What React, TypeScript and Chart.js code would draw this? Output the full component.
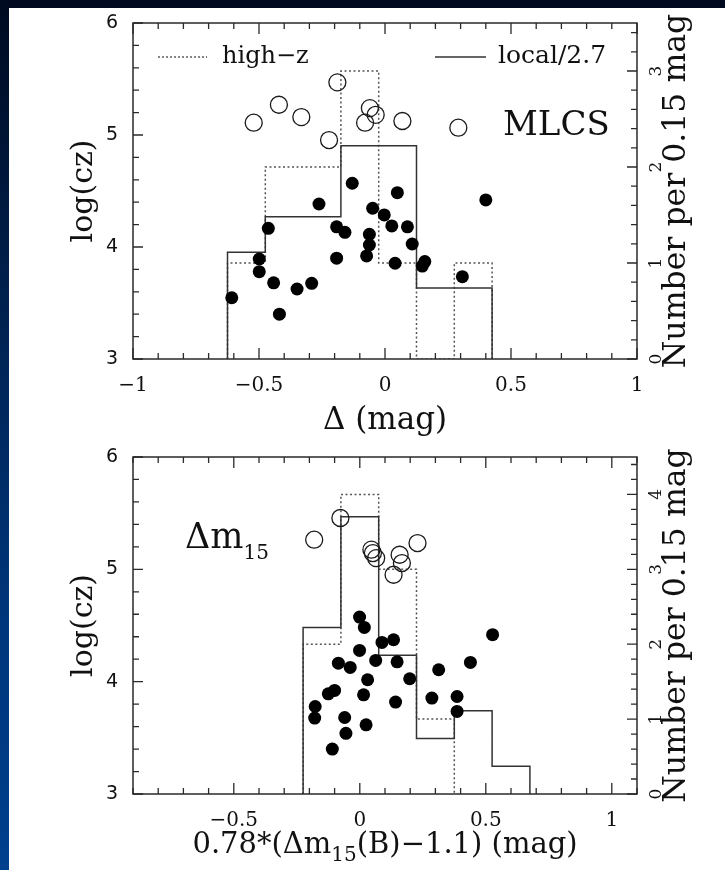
import React, { useEffect, useRef } from "react";
import { Chart, registerables } from "chart.js";

Chart.register(...registerables);

const SERIF = '"DejaVu Serif", serif';
const SANS = '"DejaVu Sans", sans-serif';

// ---------------- top panel (MLCS) ----------------
const topLocalX = [-0.608, -0.499, -0.499, -0.463, -0.442, -0.419, -0.349, -0.291, -0.262, -0.192, -0.159, -0.192, -0.13, -0.049, -0.062, -0.062, -0.073, -0.003, 0.027, 0.04, 0.049, 0.089, 0.108, 0.158, 0.148, 0.307, 0.4];
const topLocalY = [3.547, 3.893, 3.78, 4.167, 3.68, 3.4, 3.625, 3.676, 4.384, 4.18, 4.131, 3.9, 4.569, 4.346, 4.113, 4.018, 3.92, 4.286, 4.188, 3.855, 4.485, 4.18, 4.027, 3.87, 3.83, 3.735, 4.42];
const topHighZX = [-0.521, -0.421, -0.332, -0.222, -0.189, -0.06, -0.079, -0.037, 0.069, 0.291];
const topHighZY = [5.11, 5.27, 5.16, 4.955, 5.47, 5.24, 5.11, 5.18, 5.125, 5.065];
const topBinEdges = [-0.625, -0.475, -0.325, -0.175, -0.025, 0.125, 0.275, 0.425];
const topLocalCounts = [3, 4, 4, 6, 6, 2, 2];
const topHighZCounts = [1, 2, 2, 3, 1, 0, 1];
const topXTicks = [-1, -0.5, 0, 0.5, 1];
const topY2Ticks = [0, 1, 2, 3];

// ---------------- bottom panel (Delta m15) ----------------
const botLocalX = [-0.177, -0.179, -0.125, -0.1, -0.109, -0.085, -0.06, -0.055, -0.038, -0.001, 0.015, 0.025, 0.031, 0.063, 0.088, 0.134, 0.148, 0.142, 0.198, 0.018, -0.001, 0.286, 0.313, 0.386, 0.386, 0.439, 0.527];
const botLocalY = [3.779, 3.676, 3.892, 3.922, 3.4, 4.165, 3.681, 3.54, 4.127, 4.278, 3.883, 3.616, 4.017, 4.189, 4.349, 4.373, 4.177, 3.818, 4.026, 4.483, 4.575, 3.854, 4.106, 3.868, 3.735, 4.171, 4.418];
const botHighZX = [-0.181, -0.077, 0.046, 0.052, 0.065, 0.134, 0.158, 0.167, 0.229];
const botHighZY = [5.264, 5.457, 5.175, 5.145, 5.1, 4.952, 5.13, 5.056, 5.234];
const botBinEdges = [-0.225, -0.075, 0.075, 0.225, 0.375, 0.525, 0.675];
const botLocalCounts = [6, 10, 5, 2, 3, 1];
const botHighZCounts = [2, 4, 3, 1, 0, 0];
const botXTicks = [-0.5, 0, 0.5, 1];
const botY2Ticks = [0, 1, 2, 3, 4];

const yTicks = [3, 4, 5, 6];
const LOCAL_SCALE = 2.7;

function zip(xs: number[], ys: number[]) {
  return xs.map((x, i) => ({ x, y: ys[i] }));
}

function outline(edges: number[], counts: number[], div = 1) {
  let n = counts.length;
  while (n > 0 && counts[n - 1] === 0) n--;
  const pts = [{ x: edges[0], y: 0 }];
  for (let i = 0; i < n; i++) pts.push({ x: edges[i], y: counts[i] / div });
  pts.push({ x: edges[n], y: 0 });
  return pts;
}

const fmt = (v: number) => (v < 0 ? "\u2212" + String(Math.abs(v)) : String(v));

type Part = { text: string; size: number; dy?: number };

function drawParts(ctx: CanvasRenderingContext2D, parts: Part[], x: number, y: number, align: "left" | "center") {
  ctx.textBaseline = "alphabetic";
  ctx.textAlign = "left";
  let total = 0;
  for (const p of parts) {
    ctx.font = `${p.size}px ${SERIF}`;
    total += ctx.measureText(p.text).width;
  }
  let cx = align === "center" ? x - total / 2 : x;
  for (const p of parts) {
    ctx.font = `${p.size}px ${SERIF}`;
    ctx.fillText(p.text, cx, y + (p.dy || 0));
    cx += ctx.measureText(p.text).width;
  }
}

function rotText(ctx: CanvasRenderingContext2D, text: string, x: number, y: number, size: number) {
  ctx.save();
  ctx.translate(x, y);
  ctx.rotate(-Math.PI / 2);
  ctx.font = `${size}px ${SERIF}`;
  ctx.textAlign = "center";
  ctx.textBaseline = "alphabetic";
  ctx.fillText(text, 0, 0);
  ctx.restore();
}

const decoPlugin = {
  id: "deco",
  afterDraw(chart: any) {
    const cfg = chart.options.plugins.deco;
    const ctx: CanvasRenderingContext2D = chart.ctx;
    const { left, right, top, bottom } = chart.chartArea;
    const xs = chart.scales.x;
    const ys = chart.scales.y;
    const y2 = chart.scales.y2;
    ctx.save();
    ctx.strokeStyle = "#2a2a2a";
    ctx.lineWidth = 1.5;
    ctx.strokeRect(left, top, right - left, bottom - top);
    ctx.lineWidth = 1.3;
    ctx.beginPath();
    // x ticks (every 0.1, major every 0.5)
    for (let k = Math.ceil(xs.min * 10 - 1e-6); k <= Math.floor(xs.max * 10 + 1e-6); k++) {
      const px = xs.getPixelForValue(k / 10);
      const len = k % 5 === 0 ? 11 : 6;
      ctx.moveTo(px, bottom);
      ctx.lineTo(px, bottom - len);
      ctx.moveTo(px, top);
      ctx.lineTo(px, top + len);
    }
    // left y ticks (every 0.2, major every 1)
    for (let k = Math.ceil(ys.min * 5 - 1e-6); k <= Math.floor(ys.max * 5 + 1e-6); k++) {
      const py = ys.getPixelForValue(k / 5);
      const len = k % 5 === 0 ? 10 : 6;
      ctx.moveTo(left, py);
      ctx.lineTo(left + len, py);
    }
    // right y2 ticks
    for (let k = Math.ceil(y2.min * 5 - 1e-6); k <= Math.floor(y2.max * 5 + 1e-6); k++) {
      const py = y2.getPixelForValue(k / 5);
      const len = k % 5 === 0 ? 10 : 6;
      ctx.moveTo(right, py);
      ctx.lineTo(right - len, py);
    }
    ctx.stroke();

    ctx.fillStyle = "#111";
    const midY = (top + bottom) / 2;
    const midX = (left + right) / 2;
    rotText(ctx, "log(cz)", 92, midY, 30);
    rotText(ctx, "Number per 0.15 mag", 685, midY, 31.5);
    drawParts(ctx, cfg.xTitle, midX, cfg.xTitleY, "center");

    if (cfg.legend) {
      ctx.strokeStyle = "#444";
      ctx.lineWidth = 1.3;
      ctx.setLineDash([2, 2]);
      ctx.beginPath();
      ctx.moveTo(158, 57);
      ctx.lineTo(207, 57);
      ctx.stroke();
      ctx.setLineDash([]);
      ctx.strokeStyle = "#333";
      ctx.lineWidth = 1.5;
      ctx.beginPath();
      ctx.moveTo(435, 57);
      ctx.lineTo(486, 57);
      ctx.stroke();
      drawParts(ctx, [{ text: "high\u2212z", size: 24 }], 222, 63, "left");
      drawParts(ctx, [{ text: "local/2.7", size: 25 }], 498, 63, "left");
    }
    if (cfg.label) drawParts(ctx, cfg.label, cfg.labelX, cfg.labelY, "left");
    ctx.restore();
  },
};

function makeConfig(p: any) {
  return {
    type: "scatter",
    data: {
      datasets: [
        { type: "scatter", data: zip(p.localX, p.localY), yAxisID: "y", pointRadius: 6.5, pointHoverRadius: 6.5, backgroundColor: "#000", borderWidth: 0 },
        { type: "scatter", data: zip(p.hzX, p.hzY), yAxisID: "y", pointRadius: 8.5, pointHoverRadius: 8.5, backgroundColor: "rgba(0,0,0,0)", borderColor: "#1a1a1a", borderWidth: 1.3 },
        { type: "line", data: outline(p.edges, p.localCounts, LOCAL_SCALE), yAxisID: "y2", stepped: true, borderColor: "#333", borderWidth: 1.5, pointRadius: 0, fill: false },
        { type: "line", data: outline(p.edges, p.hzCounts), yAxisID: "y2", stepped: true, borderColor: "#555", borderWidth: 1.5, borderDash: [2, 2.5], pointRadius: 0, fill: false },
      ],
    },
    options: {
      responsive: false,
      animation: false,
      devicePixelRatio: 1,
      layout: { padding: { top: p.padTop, left: 0, right: 0, bottom: 0 } },
      plugins: {
        legend: { display: false },
        tooltip: { enabled: false },
        deco: p.deco,
      },
      scales: {
        x: {
          type: "linear",
          position: "bottom",
          min: p.xMin,
          max: p.xMax,
          afterBuildTicks: (s: any) => { s.ticks = p.xTicks.map((v: number) => ({ value: v })); },
          afterFit: (s: any) => { s.height = p.xAxisH; },
          grid: { display: false },
          border: { display: false },
          ticks: { autoSkip: false, maxRotation: 0, padding: 7, color: "#111", font: { family: SERIF, size: 20 }, callback: (v: number) => fmt(v) },
        },
        y: {
          type: "linear",
          position: "left",
          min: 3,
          max: 6,
          afterBuildTicks: (s: any) => { s.ticks = yTicks.map((v) => ({ value: v })); },
          afterFit: (s: any) => { s.width = 133; },
          grid: { display: false },
          border: { display: false },
          ticks: { padding: 7, color: "#111", font: { family: SANS, size: 19 } },
        },
        y2: {
          type: "linear",
          position: "right",
          min: 0,
          max: p.y2Max,
          afterBuildTicks: (s: any) => { s.ticks = p.y2Ticks.map((v: number) => ({ value: v })); },
          afterFit: (s: any) => { s.width = 88; },
          grid: { display: false },
          border: { display: false },
          ticks: { padding: 6, minRotation: 90, maxRotation: 90, crossAlign: "center", color: "#111", font: { family: SERIF, size: 17 } },
        },
      },
    },
    plugins: [decoPlugin],
  };
}

function Panel(props: { cfg: any; top: number; height: number }) {
  const ref = useRef<HTMLCanvasElement | null>(null);
  useEffect(() => {
    if (!ref.current) return;
    const chart = new Chart(ref.current, makeConfig(props.cfg) as any);
    return () => chart.destroy();
  }, []);
  return (
    <canvas
      ref={ref}
      width={725}
      height={props.height}
      style={{ position: "absolute", left: 0, top: props.top, width: 725, height: props.height, display: "block" }}
    />
  );
}

const topCfg = {
  localX: topLocalX, localY: topLocalY, hzX: topHighZX, hzY: topHighZY,
  edges: topBinEdges, localCounts: topLocalCounts, hzCounts: topHighZCounts,
  xMin: -1, xMax: 1, xTicks: topXTicks, y2Max: 3.5, y2Ticks: topY2Ticks,
  padTop: 23, xAxisH: 450 - 359,
  deco: {
    legend: true,
    xTitle: [{ text: "\u0394 (mag)", size: 31 }],
    xTitleY: 429,
    label: [{ text: "MLCS", size: 34 }],
    labelX: 503,
    labelY: 135,
  },
};

const botCfg = {
  localX: botLocalX, localY: botLocalY, hzX: botHighZX, hzY: botHighZY,
  edges: botBinEdges, localCounts: botLocalCounts, hzCounts: botHighZCounts,
  xMin: -0.9, xMax: 1.1, xTicks: botXTicks, y2Max: 4.5, y2Ticks: botY2Ticks,
  padTop: 22, xAxisH: 76,
  deco: {
    legend: false,
    xTitle: [
      { text: "0.78*(\u0394m", size: 29 },
      { text: "15", size: 20, dy: 8 },
      { text: "(B)\u22121.1) (mag)", size: 29 },
    ],
    xTitleY: 418,
    label: [
      { text: "\u0394m", size: 35 },
      { text: "15", size: 20, dy: 11 },
    ],
    labelX: 185,
    labelY: 113,
  },
};

export default function App() {
  return (
    <div style={{ position: "absolute", left: 0, top: 0, width: 725, height: 870, background: "#00091f", overflow: "hidden" }}>
      <div style={{ position: "absolute", left: 0, top: 0, width: 9, height: 870, background: "linear-gradient(180deg, #000a20 0%, #00214f 35%, #00357a 70%, #00408d 100%)" }} />
      <div style={{ position: "absolute", left: 9, top: 8, right: 0, bottom: 0, background: "#ffffff" }} />
      <Panel cfg={topCfg} top={0} height={450} />
      <Panel cfg={botCfg} top={435} height={435} />
    </div>
  );
}
